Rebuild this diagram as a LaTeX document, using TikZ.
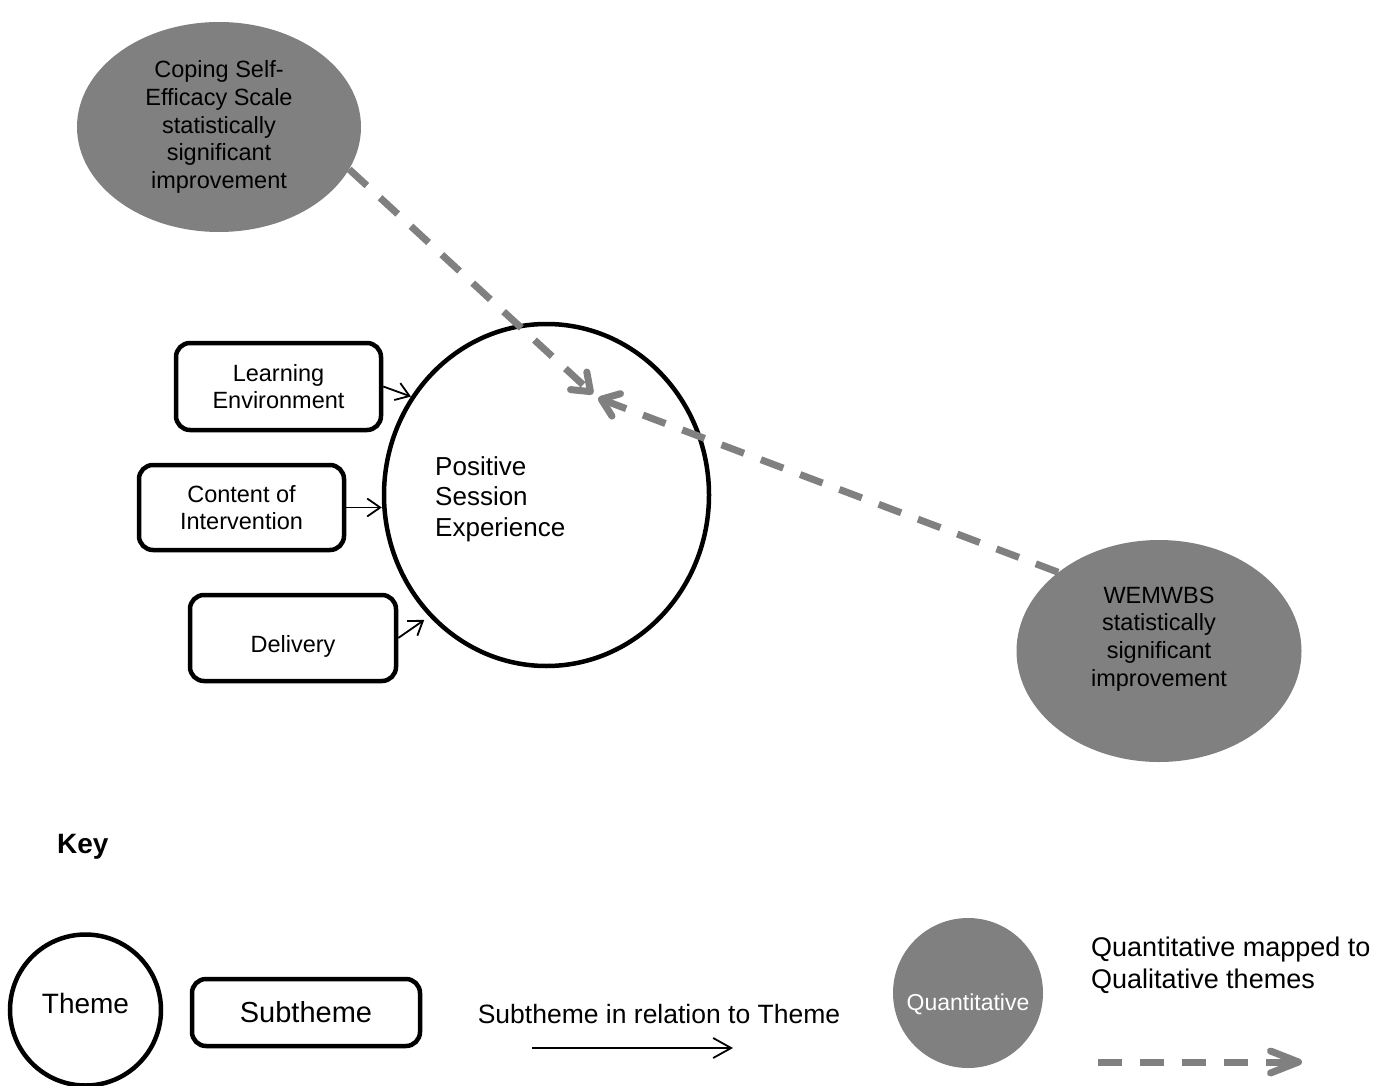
\documentclass[tikz,border=0pt]{standalone}
\usepackage{fontspec}
\setmainfont{Liberation Sans}
\usetikzlibrary{shapes.geometric,arrows.meta}
\definecolor{quantgray}{RGB}{128,128,128}
\begin{document}
\begin{tikzpicture}[x=1pt,y=-1pt,
  theme/.style={ellipse,draw=black,line width=4.5pt,inner sep=0pt},
  subbox/.style={rectangle,draw=black,line width=4.5pt,rounded corners=14pt,inner sep=0pt,
    align=center,font=\fontsize{23.5}{27.5}\selectfont},
  quant/.style={ellipse,fill=quantgray,inner sep=0pt},
  qtext/.style={align=center,inner sep=0pt,font=\fontsize{23.5}{27.7}\selectfont},
  relarrow/.style={line width=1.8pt,-{Straight Barb[length=13pt,width=18pt]}},
  maparrow/.style={draw=quantgray,line width=7pt,dash pattern=on 24pt off 18pt,
    -{Straight Barb[length=16pt,width=24pt,round]}},
]
\useasboundingbox (0,0) rectangle (1389,1086);

% quantitative results
\node[quant,qtext,minimum width=284pt,minimum height=210pt] (cses) at (219,127)
  {Coping Self-\\Efficacy Scale\\statistically\\significant\\improvement};
\node[quant,minimum width=285pt,minimum height=222pt] (wem) at (1159,651) {};
\node[qtext] (wemtext) at (1159,639) {WEMWBS\\statistically\\significant\\improvement};

% theme and subthemes
\node[theme,minimum width=325pt,minimum height=342pt] (pse) at (546.5,495) {};
\node[anchor=west,inner sep=0pt,align=left,font=\fontsize{26}{30.5}\selectfont] (psetext)
  at (435,499) {Positive\\Session\\Experience};

\node[subbox,minimum width=205pt,minimum height=87pt] (le) at (278.5,386.5) {Learning\\Environment};
\node[subbox,minimum width=205pt,minimum height=85pt] (ci) at (241.5,507.5) {Content of\\Intervention};
\node[subbox,minimum width=206pt,minimum height=86pt,text height=34pt,text depth=5pt] (dl)
  at (293,638) {Delivery};

\draw[relarrow] (le.east) -- (pse.144);
\draw[relarrow] (ci.east) -- (ci.east -| pse.west);
\draw[relarrow,shorten >=6pt] (dl.east) -- (pse.226);

% mapping of quantitative results onto the theme
\coordinate (tipA) at (593,394);
\coordinate (tipB) at (598,398);
\draw[maparrow] (cses.-18) -- (tipA);
\draw[maparrow] (wem.142) -- (tipB);

% key
\node[font=\bfseries\fontsize{28}{32}\selectfont,anchor=base west,inner sep=0pt] (key) at (57,853) {Key};
\node[theme,minimum width=151pt,minimum height=151pt,font=\fontsize{28}{32}\selectfont,
  text height=20pt,text depth=14pt] (ktheme) at (85.5,1010) {Theme};
\node[subbox,minimum width=228pt,minimum height=67pt,font=\fontsize{29}{33}\selectfont] (ksub)
  at (306,1012.5) {Subtheme};
\node[font=\fontsize{26.5}{30}\selectfont,inner sep=0pt] (krel) at (659,1014) {Subtheme in relation to Theme};
\coordinate (krelA) at (532,1048);
\coordinate (krelB) at (733,1048);
\draw[line width=1.8pt,-{Straight Barb[length=18pt,width=20pt]}] (krelA) -- (krelB);

\node[quant,minimum width=150pt,minimum height=150pt] (kquant) at (968,993) {};
\node[text=white,font=\fontsize{23}{27}\selectfont,inner sep=0pt] (kquanttext) at (968,1004.5) {Quantitative};
\node[anchor=west,inner sep=0pt,align=left,font=\fontsize{27}{32}\selectfont] (kmap)
  at (1091,965) {Quantitative mapped to\\Qualitative themes};
\coordinate (kmapA) at (1098,1062);
\coordinate (kmapB) at (1302,1062);
\draw[maparrow,-{Straight Barb[length=28pt,width=22pt,round]}] (kmapA) -- (kmapB);
\end{tikzpicture}
\end{document}
